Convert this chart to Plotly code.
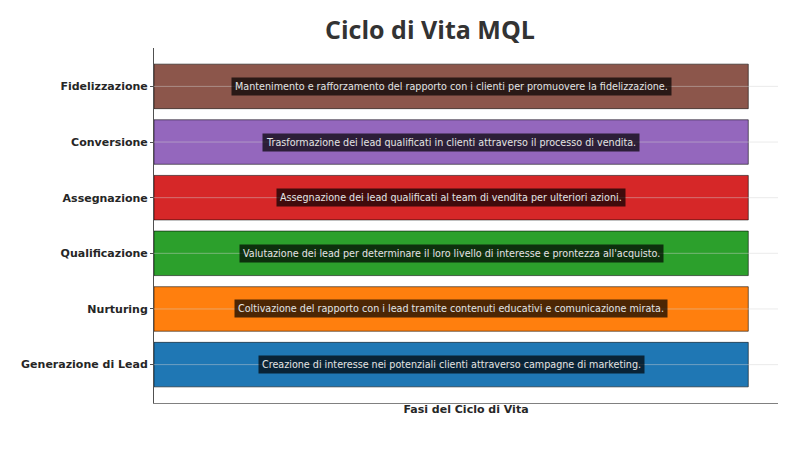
import plotly.graph_objects as go

# Fasi del ciclo di vita (dal basso verso l'alto)
phases = [
    "Generazione di Lead",
    "Nurturing",
    "Qualificazione",
    "Assegnazione",
    "Conversione",
    "Fidelizzazione",
]
durations = [1, 1, 1, 1, 1, 1]
descriptions = [
    "Creazione di interesse nei potenziali clienti attraverso campagne di marketing.",
    "Coltivazione del rapporto con i lead tramite contenuti educativi e comunicazione mirata.",
    "Valutazione dei lead per determinare il loro livello di interesse e prontezza all'acquisto.",
    "Assegnazione dei lead qualificati al team di vendita per ulteriori azioni.",
    "Trasformazione dei lead qualificati in clienti attraverso il processo di vendita.",
    "Mantenimento e rafforzamento del rapporto con i clienti per promuovere la fidelizzazione.",
]
colors = ["#1f77b4", "#ff7f0e", "#2ca02c", "#d62728", "#9467bd", "#8c564b"]

x_max = max(durations) * 1.05

fig = go.Figure()

fig.add_trace(go.Bar(
    x=durations,
    y=phases,
    orientation="h",
    width=0.8,
    marker=dict(color=colors, line=dict(color="rgba(0,0,0,0.55)", width=1)),
    hoverinfo="skip",
    showlegend=False,
))

# griglia leggera disegnata sopra le barre
grid_x, grid_y = [], []
for p in phases:
    grid_x += [0, x_max, None]
    grid_y += [p, p, None]
fig.add_trace(go.Scatter(
    x=grid_x, y=grid_y, mode="lines",
    line=dict(color="rgba(210,210,210,0.45)", width=1),
    hoverinfo="skip", showlegend=False,
))

for p, d, desc in zip(phases, durations, descriptions):
    fig.add_annotation(
        x=d / 2, y=p, text=desc, showarrow=False,
        font=dict(family="DejaVu Sans", size=9.6, color="#e4e4e4"),
        bgcolor="rgba(0,0,0,0.7)", borderpad=3,
    )

# la pagina ha un margine di 8px: compenso negli spazi
fig.update_layout(
    width=800,
    height=450,
    margin=dict(l=146, r=30, t=40, b=55),
    paper_bgcolor="white",
    plot_bgcolor="white",
    title=dict(
        text="<b>Ciclo di Vita MQL</b>",
        x=422 / 800, xanchor="center",
        y=1 - 22 / 450, yanchor="middle",
        font=dict(family="Open Sans", size=25, color="#333333"),
    ),
    xaxis=dict(
        range=[0, x_max],
        showticklabels=False,
        ticks="",
        showgrid=False,
        zeroline=False,
        showline=True,
        linecolor="#808080",
        linewidth=1.2,
        title=dict(
            text="<b>Fasi del Ciclo di Vita</b>",
            font=dict(family="DejaVu Sans", size=11, color="#262626"),
            standoff=2,
        ),
    ),
    yaxis=dict(
        categoryorder="array",
        categoryarray=phases,
        range=[-0.69, 5.69],
        showgrid=False,
        zeroline=False,
        showline=True,
        linecolor="#505050",
        linewidth=1,
        ticks="outside",
        ticklen=3,
        tickcolor="#505050",
        tickfont=dict(family="DejaVu Sans", size=11, color="#262626"),
        ticklabelstandoff=0,
    ),
)

# etichette in grassetto
fig.update_yaxes(tickvals=phases, ticktext=[f"<b>{p}</b>" for p in phases])

fig.write_html("out.html")
